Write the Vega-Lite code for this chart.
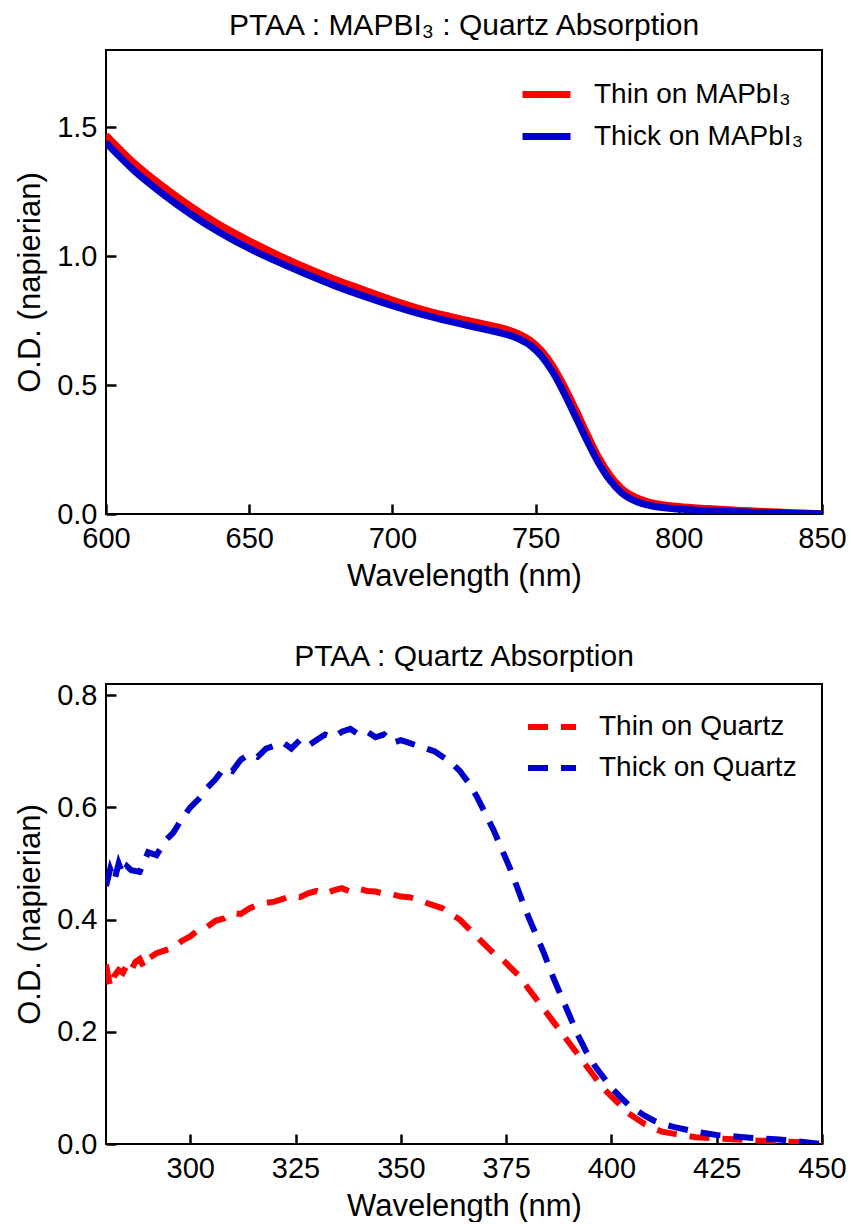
{
  "$schema": "https://vega.github.io/schema/vega-lite/v6.json",
  "background": "white",
  "padding": {"left": 13, "top": 10, "right": 5, "bottom": 0},
  "spacing": 49,
  "config": {
    "font": "Liberation Sans",
    "view": {"stroke": "black", "strokeWidth": 2},
    "title": {"fontSize": 30, "font": "Liberation Sans", "fontWeight": "normal", "color": "black", "offset": 9},
    "axis": {
      "grid": false, "domain": false, "ticks": true, "tickColor": "#000000", "tickWidth": 2.5, "tickOpacity": 1, "zindex": 1,
      "tickSize": 10, "offset": -10, "labelFontSize": 29, "titleFontSize": 31, "labelColor": "black", "titleColor": "black",
      "titleFontWeight": "normal", "labelFont": "Liberation Sans", "titleFont": "Liberation Sans", "labelFlush": false, "labelOverlap": false
    },
    "axisX": {"labelPadding": 10, "titlePadding": 8},
    "axisY": {"labelPadding": 9, "titlePadding": 10},
    "legend": {"labelFontSize": 28, "labelFont": "Liberation Sans", "labelColor": "black", "labelLimit": 400, "symbolType": "stroke", "symbolSize": 2304, "symbolStrokeWidth": 7, "rowPadding": -17, "labelOffset": 20, "padding": 0, "title": null}
  },
  "vconcat": [
    {
      "title": "PTAA : MAPBI₃ : Quartz  Absorption",
      "width": 716, "height": 464,
      "data": {"values": [
        {"wl": 600, "od": 1.47, "s": "Thin on MAPbI₃"}, {"wl": 610, "od": 1.36, "s": "Thin on MAPbI₃"}, {"wl": 620, "od": 1.27, "s": "Thin on MAPbI₃"}, {"wl": 630, "od": 1.19, "s": "Thin on MAPbI₃"}, {"wl": 640, "od": 1.12, "s": "Thin on MAPbI₃"}, {"wl": 650, "od": 1.06, "s": "Thin on MAPbI₃"}, {"wl": 660, "od": 1.005, "s": "Thin on MAPbI₃"}, {"wl": 670, "od": 0.955, "s": "Thin on MAPbI₃"}, {"wl": 680, "od": 0.91, "s": "Thin on MAPbI₃"}, {"wl": 690, "od": 0.87, "s": "Thin on MAPbI₃"}, {"wl": 700, "od": 0.83, "s": "Thin on MAPbI₃"}, {"wl": 710, "od": 0.795, "s": "Thin on MAPbI₃"}, {"wl": 720, "od": 0.767, "s": "Thin on MAPbI₃"}, {"wl": 730, "od": 0.742, "s": "Thin on MAPbI₃"}, {"wl": 738, "od": 0.722, "s": "Thin on MAPbI₃"}, {"wl": 744, "od": 0.7, "s": "Thin on MAPbI₃"}, {"wl": 748, "od": 0.675, "s": "Thin on MAPbI₃"}, {"wl": 752, "od": 0.635, "s": "Thin on MAPbI₃"}, {"wl": 756, "od": 0.575, "s": "Thin on MAPbI₃"}, {"wl": 760, "od": 0.495, "s": "Thin on MAPbI₃"}, {"wl": 764, "od": 0.405, "s": "Thin on MAPbI₃"}, {"wl": 768, "od": 0.31, "s": "Thin on MAPbI₃"}, {"wl": 772, "od": 0.22, "s": "Thin on MAPbI₃"}, {"wl": 776, "od": 0.15, "s": "Thin on MAPbI₃"}, {"wl": 780, "od": 0.1, "s": "Thin on MAPbI₃"}, {"wl": 785, "od": 0.064, "s": "Thin on MAPbI₃"}, {"wl": 790, "od": 0.045, "s": "Thin on MAPbI₃"}, {"wl": 800, "od": 0.029, "s": "Thin on MAPbI₃"}, {"wl": 810, "od": 0.021, "s": "Thin on MAPbI₃"}, {"wl": 820, "od": 0.015, "s": "Thin on MAPbI₃"}, {"wl": 830, "od": 0.01, "s": "Thin on MAPbI₃"}, {"wl": 840, "od": 0.005, "s": "Thin on MAPbI₃"}, {"wl": 850, "od": 0.001, "s": "Thin on MAPbI₃"},
        {"wl": 600, "od": 1.44, "s": "Thick on MAPbI₃"}, {"wl": 610, "od": 1.33, "s": "Thick on MAPbI₃"}, {"wl": 620, "od": 1.24, "s": "Thick on MAPbI₃"}, {"wl": 630, "od": 1.16, "s": "Thick on MAPbI₃"}, {"wl": 640, "od": 1.09, "s": "Thick on MAPbI₃"}, {"wl": 650, "od": 1.03, "s": "Thick on MAPbI₃"}, {"wl": 660, "od": 0.978, "s": "Thick on MAPbI₃"}, {"wl": 670, "od": 0.93, "s": "Thick on MAPbI₃"}, {"wl": 680, "od": 0.885, "s": "Thick on MAPbI₃"}, {"wl": 690, "od": 0.845, "s": "Thick on MAPbI₃"}, {"wl": 700, "od": 0.808, "s": "Thick on MAPbI₃"}, {"wl": 710, "od": 0.775, "s": "Thick on MAPbI₃"}, {"wl": 720, "od": 0.747, "s": "Thick on MAPbI₃"}, {"wl": 730, "od": 0.722, "s": "Thick on MAPbI₃"}, {"wl": 738, "od": 0.702, "s": "Thick on MAPbI₃"}, {"wl": 744, "od": 0.68, "s": "Thick on MAPbI₃"}, {"wl": 748, "od": 0.655, "s": "Thick on MAPbI₃"}, {"wl": 752, "od": 0.613, "s": "Thick on MAPbI₃"}, {"wl": 756, "od": 0.55, "s": "Thick on MAPbI₃"}, {"wl": 760, "od": 0.468, "s": "Thick on MAPbI₃"}, {"wl": 764, "od": 0.376, "s": "Thick on MAPbI₃"}, {"wl": 768, "od": 0.283, "s": "Thick on MAPbI₃"}, {"wl": 772, "od": 0.198, "s": "Thick on MAPbI₃"}, {"wl": 776, "od": 0.13, "s": "Thick on MAPbI₃"}, {"wl": 780, "od": 0.082, "s": "Thick on MAPbI₃"}, {"wl": 785, "od": 0.049, "s": "Thick on MAPbI₃"}, {"wl": 790, "od": 0.033, "s": "Thick on MAPbI₃"}, {"wl": 800, "od": 0.019, "s": "Thick on MAPbI₃"}, {"wl": 810, "od": 0.013, "s": "Thick on MAPbI₃"}, {"wl": 820, "od": 0.009, "s": "Thick on MAPbI₃"}, {"wl": 830, "od": 0.006, "s": "Thick on MAPbI₃"}, {"wl": 840, "od": 0.003, "s": "Thick on MAPbI₃"}, {"wl": 850, "od": 0.0, "s": "Thick on MAPbI₃"}
      ]},
      "mark": {"type": "line", "strokeWidth": 7, "clip": true, "interpolate": "monotone"},
      "encoding": {
        "x": {"field": "wl", "type": "quantitative", "title": "Wavelength (nm)", "scale": {"domain": [600, 850], "nice": false}, "axis": {"values": [600, 650, 700, 750, 800, 850], "ticks": true, "tickSize": 10}},
        "y": {"field": "od", "type": "quantitative", "title": "O.D. (napierian)", "scale": {"domain": [0, 1.8], "nice": false}, "axis": {"values": [0, 0.5, 1.0, 1.5], "format": ".1f", "ticks": true, "tickSize": 10}},
        "color": {"field": "s", "type": "nominal", "scale": {"domain": ["Thin on MAPbI₃", "Thick on MAPbI₃"], "range": ["#ff0000", "#0000cd"]}, "legend": {"orient": "none", "legendX": 413, "legendY": 17}},
        "order": {"field": "s", "type": "nominal", "sort": "ascending"}
      }
    },
    {
      "title": "PTAA : Quartz Absorption",
      "width": 716, "height": 460,
      "data": {"values": [
        {"wl": 280, "od": 0.32, "s": "Thin on Quartz"}, {"wl": 281, "od": 0.28, "s": "Thin on Quartz"}, {"wl": 282, "od": 0.3, "s": "Thin on Quartz"}, {"wl": 283, "od": 0.31, "s": "Thin on Quartz"}, {"wl": 284, "od": 0.305, "s": "Thin on Quartz"}, {"wl": 285, "od": 0.32, "s": "Thin on Quartz"}, {"wl": 286, "od": 0.31, "s": "Thin on Quartz"}, {"wl": 287, "od": 0.325, "s": "Thin on Quartz"}, {"wl": 288, "od": 0.33, "s": "Thin on Quartz"}, {"wl": 289, "od": 0.315, "s": "Thin on Quartz"}, {"wl": 290, "od": 0.33, "s": "Thin on Quartz"}, {"wl": 292, "od": 0.34, "s": "Thin on Quartz"}, {"wl": 294, "od": 0.345, "s": "Thin on Quartz"}, {"wl": 296, "od": 0.35, "s": "Thin on Quartz"}, {"wl": 298, "od": 0.362, "s": "Thin on Quartz"}, {"wl": 300, "od": 0.37, "s": "Thin on Quartz"}, {"wl": 302, "od": 0.382, "s": "Thin on Quartz"}, {"wl": 304, "od": 0.387, "s": "Thin on Quartz"}, {"wl": 306, "od": 0.398, "s": "Thin on Quartz"}, {"wl": 308, "od": 0.402, "s": "Thin on Quartz"}, {"wl": 310, "od": 0.412, "s": "Thin on Quartz"}, {"wl": 312, "od": 0.41, "s": "Thin on Quartz"}, {"wl": 314, "od": 0.42, "s": "Thin on Quartz"}, {"wl": 316, "od": 0.426, "s": "Thin on Quartz"}, {"wl": 318, "od": 0.43, "s": "Thin on Quartz"}, {"wl": 320, "od": 0.432, "s": "Thin on Quartz"}, {"wl": 322, "od": 0.437, "s": "Thin on Quartz"}, {"wl": 324, "od": 0.442, "s": "Thin on Quartz"}, {"wl": 326, "od": 0.44, "s": "Thin on Quartz"}, {"wl": 328, "od": 0.447, "s": "Thin on Quartz"}, {"wl": 330, "od": 0.451, "s": "Thin on Quartz"}, {"wl": 332, "od": 0.446, "s": "Thin on Quartz"}, {"wl": 334, "od": 0.452, "s": "Thin on Quartz"}, {"wl": 336, "od": 0.456, "s": "Thin on Quartz"}, {"wl": 338, "od": 0.45, "s": "Thin on Quartz"}, {"wl": 340, "od": 0.455, "s": "Thin on Quartz"}, {"wl": 342, "od": 0.451, "s": "Thin on Quartz"}, {"wl": 344, "od": 0.45, "s": "Thin on Quartz"}, {"wl": 346, "od": 0.446, "s": "Thin on Quartz"}, {"wl": 348, "od": 0.445, "s": "Thin on Quartz"}, {"wl": 350, "od": 0.441, "s": "Thin on Quartz"}, {"wl": 352, "od": 0.44, "s": "Thin on Quartz"}, {"wl": 354, "od": 0.436, "s": "Thin on Quartz"}, {"wl": 356, "od": 0.43, "s": "Thin on Quartz"}, {"wl": 358, "od": 0.425, "s": "Thin on Quartz"}, {"wl": 360, "od": 0.42, "s": "Thin on Quartz"}, {"wl": 362, "od": 0.41, "s": "Thin on Quartz"}, {"wl": 364, "od": 0.4, "s": "Thin on Quartz"}, {"wl": 366, "od": 0.385, "s": "Thin on Quartz"}, {"wl": 368, "od": 0.37, "s": "Thin on Quartz"}, {"wl": 370, "od": 0.355, "s": "Thin on Quartz"}, {"wl": 372, "od": 0.34, "s": "Thin on Quartz"}, {"wl": 374, "od": 0.33, "s": "Thin on Quartz"}, {"wl": 376, "od": 0.315, "s": "Thin on Quartz"}, {"wl": 378, "od": 0.3, "s": "Thin on Quartz"}, {"wl": 380, "od": 0.28, "s": "Thin on Quartz"}, {"wl": 382, "od": 0.26, "s": "Thin on Quartz"}, {"wl": 384, "od": 0.24, "s": "Thin on Quartz"}, {"wl": 386, "od": 0.22, "s": "Thin on Quartz"}, {"wl": 388, "od": 0.2, "s": "Thin on Quartz"}, {"wl": 390, "od": 0.18, "s": "Thin on Quartz"}, {"wl": 392, "od": 0.16, "s": "Thin on Quartz"}, {"wl": 394, "od": 0.14, "s": "Thin on Quartz"}, {"wl": 396, "od": 0.12, "s": "Thin on Quartz"}, {"wl": 398, "od": 0.1, "s": "Thin on Quartz"}, {"wl": 400, "od": 0.085, "s": "Thin on Quartz"}, {"wl": 402, "od": 0.07, "s": "Thin on Quartz"}, {"wl": 404, "od": 0.055, "s": "Thin on Quartz"}, {"wl": 406, "od": 0.045, "s": "Thin on Quartz"}, {"wl": 408, "od": 0.035, "s": "Thin on Quartz"}, {"wl": 410, "od": 0.028, "s": "Thin on Quartz"}, {"wl": 412, "od": 0.022, "s": "Thin on Quartz"}, {"wl": 415, "od": 0.018, "s": "Thin on Quartz"}, {"wl": 420, "od": 0.012, "s": "Thin on Quartz"}, {"wl": 425, "od": 0.01, "s": "Thin on Quartz"}, {"wl": 430, "od": 0.008, "s": "Thin on Quartz"}, {"wl": 435, "od": 0.006, "s": "Thin on Quartz"}, {"wl": 440, "od": 0.005, "s": "Thin on Quartz"}, {"wl": 445, "od": 0.003, "s": "Thin on Quartz"}, {"wl": 450, "od": 0.0, "s": "Thin on Quartz"},
        {"wl": 280, "od": 0.46, "s": "Thick on Quartz"}, {"wl": 281, "od": 0.49, "s": "Thick on Quartz"}, {"wl": 282, "od": 0.47, "s": "Thick on Quartz"}, {"wl": 283, "od": 0.5, "s": "Thick on Quartz"}, {"wl": 284, "od": 0.48, "s": "Thick on Quartz"}, {"wl": 285, "od": 0.495, "s": "Thick on Quartz"}, {"wl": 286, "od": 0.488, "s": "Thick on Quartz"}, {"wl": 288, "od": 0.485, "s": "Thick on Quartz"}, {"wl": 290, "od": 0.52, "s": "Thick on Quartz"}, {"wl": 292, "od": 0.515, "s": "Thick on Quartz"}, {"wl": 294, "od": 0.54, "s": "Thick on Quartz"}, {"wl": 296, "od": 0.555, "s": "Thick on Quartz"}, {"wl": 298, "od": 0.58, "s": "Thick on Quartz"}, {"wl": 300, "od": 0.6, "s": "Thick on Quartz"}, {"wl": 302, "od": 0.615, "s": "Thick on Quartz"}, {"wl": 304, "od": 0.635, "s": "Thick on Quartz"}, {"wl": 306, "od": 0.65, "s": "Thick on Quartz"}, {"wl": 308, "od": 0.67, "s": "Thick on Quartz"}, {"wl": 310, "od": 0.665, "s": "Thick on Quartz"}, {"wl": 312, "od": 0.685, "s": "Thick on Quartz"}, {"wl": 314, "od": 0.695, "s": "Thick on Quartz"}, {"wl": 316, "od": 0.69, "s": "Thick on Quartz"}, {"wl": 318, "od": 0.705, "s": "Thick on Quartz"}, {"wl": 320, "od": 0.71, "s": "Thick on Quartz"}, {"wl": 322, "od": 0.716, "s": "Thick on Quartz"}, {"wl": 324, "od": 0.705, "s": "Thick on Quartz"}, {"wl": 326, "od": 0.72, "s": "Thick on Quartz"}, {"wl": 328, "od": 0.71, "s": "Thick on Quartz"}, {"wl": 330, "od": 0.72, "s": "Thick on Quartz"}, {"wl": 332, "od": 0.73, "s": "Thick on Quartz"}, {"wl": 334, "od": 0.725, "s": "Thick on Quartz"}, {"wl": 336, "od": 0.735, "s": "Thick on Quartz"}, {"wl": 338, "od": 0.74, "s": "Thick on Quartz"}, {"wl": 340, "od": 0.73, "s": "Thick on Quartz"}, {"wl": 342, "od": 0.735, "s": "Thick on Quartz"}, {"wl": 344, "od": 0.725, "s": "Thick on Quartz"}, {"wl": 346, "od": 0.73, "s": "Thick on Quartz"}, {"wl": 348, "od": 0.715, "s": "Thick on Quartz"}, {"wl": 350, "od": 0.72, "s": "Thick on Quartz"}, {"wl": 352, "od": 0.715, "s": "Thick on Quartz"}, {"wl": 354, "od": 0.71, "s": "Thick on Quartz"}, {"wl": 356, "od": 0.705, "s": "Thick on Quartz"}, {"wl": 358, "od": 0.7, "s": "Thick on Quartz"}, {"wl": 360, "od": 0.69, "s": "Thick on Quartz"}, {"wl": 362, "od": 0.68, "s": "Thick on Quartz"}, {"wl": 364, "od": 0.665, "s": "Thick on Quartz"}, {"wl": 366, "od": 0.645, "s": "Thick on Quartz"}, {"wl": 368, "od": 0.62, "s": "Thick on Quartz"}, {"wl": 370, "od": 0.59, "s": "Thick on Quartz"}, {"wl": 372, "od": 0.56, "s": "Thick on Quartz"}, {"wl": 374, "od": 0.525, "s": "Thick on Quartz"}, {"wl": 376, "od": 0.49, "s": "Thick on Quartz"}, {"wl": 378, "od": 0.45, "s": "Thick on Quartz"}, {"wl": 380, "od": 0.41, "s": "Thick on Quartz"}, {"wl": 382, "od": 0.375, "s": "Thick on Quartz"}, {"wl": 384, "od": 0.34, "s": "Thick on Quartz"}, {"wl": 386, "od": 0.3, "s": "Thick on Quartz"}, {"wl": 388, "od": 0.265, "s": "Thick on Quartz"}, {"wl": 390, "od": 0.23, "s": "Thick on Quartz"}, {"wl": 392, "od": 0.195, "s": "Thick on Quartz"}, {"wl": 394, "od": 0.165, "s": "Thick on Quartz"}, {"wl": 396, "od": 0.14, "s": "Thick on Quartz"}, {"wl": 398, "od": 0.12, "s": "Thick on Quartz"}, {"wl": 400, "od": 0.1, "s": "Thick on Quartz"}, {"wl": 402, "od": 0.085, "s": "Thick on Quartz"}, {"wl": 404, "od": 0.07, "s": "Thick on Quartz"}, {"wl": 406, "od": 0.06, "s": "Thick on Quartz"}, {"wl": 408, "od": 0.05, "s": "Thick on Quartz"}, {"wl": 410, "od": 0.042, "s": "Thick on Quartz"}, {"wl": 412, "od": 0.036, "s": "Thick on Quartz"}, {"wl": 415, "od": 0.03, "s": "Thick on Quartz"}, {"wl": 420, "od": 0.022, "s": "Thick on Quartz"}, {"wl": 425, "od": 0.016, "s": "Thick on Quartz"}, {"wl": 430, "od": 0.013, "s": "Thick on Quartz"}, {"wl": 435, "od": 0.01, "s": "Thick on Quartz"}, {"wl": 440, "od": 0.008, "s": "Thick on Quartz"}, {"wl": 445, "od": 0.004, "s": "Thick on Quartz"}, {"wl": 450, "od": 0.0, "s": "Thick on Quartz"}
      ]},
      "mark": {"type": "line", "strokeWidth": 6, "strokeDash": [20, 13], "clip": true},
      "encoding": {
        "x": {"field": "wl", "type": "quantitative", "title": "Wavelength (nm)", "scale": {"domain": [280, 450], "nice": false}, "axis": {"values": [300, 325, 350, 375, 400, 425, 450], "ticks": true, "tickSize": 10}},
        "y": {"field": "od", "type": "quantitative", "title": "O.D. (napierian)", "scale": {"domain": [0, 0.82], "nice": false}, "axis": {"values": [0, 0.2, 0.4, 0.6, 0.8], "format": ".1f", "ticks": true, "tickSize": 10}},
        "color": {"field": "s", "type": "nominal", "scale": {"domain": ["Thin on Quartz", "Thick on Quartz"], "range": ["#ff0000", "#0000cd"]}, "legend": {"orient": "none", "legendX": 419, "legendY": 16, "rowPadding": -19, "symbolDash": [20, 13], "symbolStrokeWidth": 6}}
      }
    }
  ],
  "resolve": {"scale": {"color": "independent"}, "legend": {"color": "independent"}}
}
